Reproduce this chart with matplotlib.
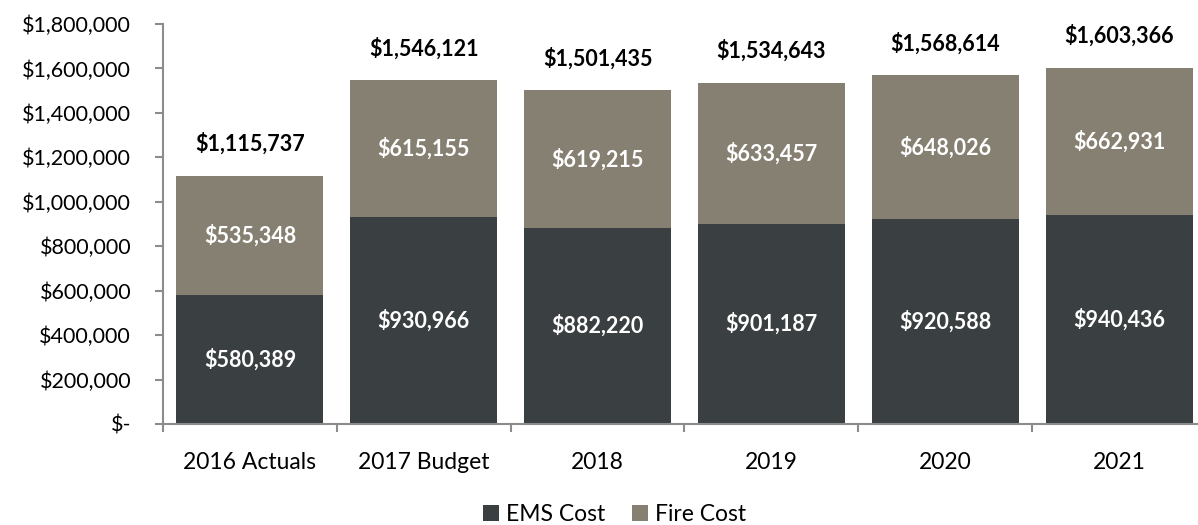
import matplotlib.pyplot as plt
import numpy as np
from matplotlib.ticker import FuncFormatter, FixedLocator

# data
years = ['2016 Actuals', '2017 Budget', '2018', '2019', '2020', '2021']
ems_cost = [580389, 930966, 882220, 901187, 920588, 940436]
fire_cost = [535348, 615155, 619215, 633457, 648026, 662931]
totals = [1115737, 1546121, 1501435, 1534643, 1568614, 1603366]

ems_color = '#3a3f41'
fire_color = '#858071'
axis_color = '#8c8c8c'

plt.rcParams['font.family'] = ['Lato', 'DejaVu Sans']

fig = plt.figure(figsize=(11.98, 5.25), dpi=100)
ax = fig.add_axes([163 / 1198, 101 / 525, 1043 / 1198, 400 / 525])

x = np.arange(len(years))
ax.bar(x, ems_cost, width=0.846, color=ems_color, label='EMS Cost')
ax.bar(x, fire_cost, width=0.846, bottom=ems_cost, color=fire_color, label='Fire Cost')

# segment labels
for i in range(len(years)):
    ax.text(x[i], ems_cost[i] / 2, f'${ems_cost[i]:,}', ha='center', va='center',
            color='white', fontsize=15.5, fontweight='bold')
    ax.text(x[i], ems_cost[i] + fire_cost[i] / 2, f'${fire_cost[i]:,}', ha='center',
            va='center', color='white', fontsize=15.5, fontweight='bold')
    ax.annotate(f'${totals[i]:,}', (x[i], totals[i]), xytext=(0, 18),
                textcoords='offset points', ha='center', va='baseline',
                fontsize=15.5, fontweight='bold', color='black')

ax.set_xlim(-0.5, len(years) - 0.5)
ax.set_ylim(0, 1800000)
ax.set_yticks(np.arange(0, 1800001, 200000))
ax.yaxis.set_major_formatter(FuncFormatter(lambda v, p: '$-' if v == 0 else f'${int(v):,}'))

ax.set_xticks(x)
ax.set_xticklabels(years)
ax.xaxis.set_minor_locator(FixedLocator(np.arange(-0.5, len(years), 1.0)))
ax.tick_params(axis='x', which='major', length=0, pad=20, labelsize=16.5)
ax.tick_params(axis='x', which='minor', length=6, color=axis_color, width=1.5)
ax.tick_params(axis='y', length=6, color=axis_color, width=1.5, pad=17, labelsize=15.5)

for s in ['top', 'right']:
    ax.spines[s].set_visible(False)
for s in ['left', 'bottom']:
    ax.spines[s].set_color(axis_color)
    ax.spines[s].set_linewidth(1.5)

fig.legend(loc='center', bbox_to_anchor=(0.513, 0.02), ncol=2, frameon=False,
           fontsize=16.5, handlelength=0.7, handleheight=0.7, handletextpad=0.3,
           columnspacing=1.2)

fig.savefig('out.png', dpi=100)
